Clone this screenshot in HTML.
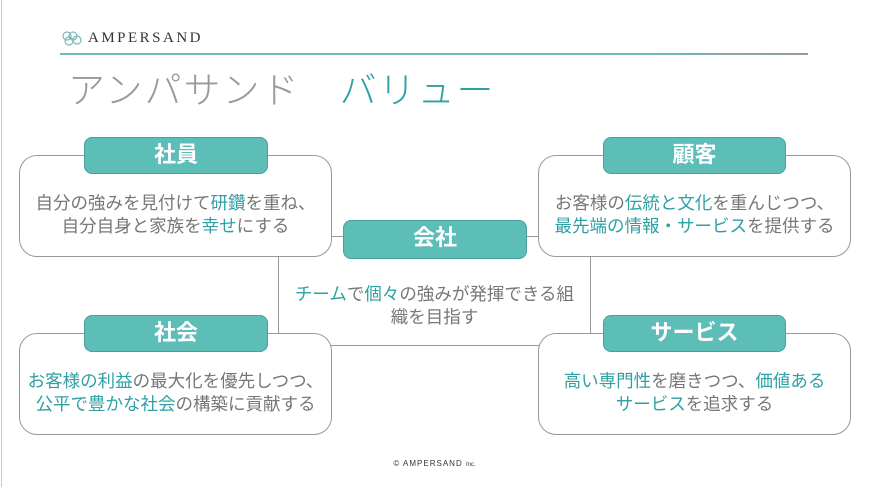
<!DOCTYPE html>
<html><head><meta charset="utf-8"><style>
body{margin:0;width:869px;height:487px;background:#fff;position:relative;overflow:hidden;font-family:"Liberation Sans","Noto Sans CJK JP",sans-serif;color:#777}
.abs{position:absolute}
.box{position:absolute;background:#fff;border:1.3px solid #999;border-radius:18px;box-sizing:border-box}
.pill{position:absolute;background:#5dbdb7;border:1.3px solid #4e9e99;border-radius:8px;box-sizing:border-box;color:#fff;font-weight:bold;font-size:22px;text-align:center;line-height:34px}
.t{position:absolute;text-align:center;font-size:17.5px;line-height:23px;color:#777;white-space:nowrap}
.c{color:#2fa0a3}
</style></head><body>
<div class="abs" style="left:1px;top:0;width:1px;height:487px;background:#ccc"></div>
<svg class="abs" style="left:60px;top:30px" width="24" height="16" viewBox="0 0 24 16"><g fill="none" stroke="#7bb8b4" stroke-width="1.2"><circle cx="7" cy="6" r="4"/><circle cx="13" cy="6" r="4"/><circle cx="9" cy="11" r="4"/><circle cx="17" cy="10" r="4"/></g></svg>
<div class="abs" style="left:88px;top:30px;font-family:'Liberation Serif',serif;font-size:15px;letter-spacing:2.5px;color:#333">AMPERSAND</div>
<div class="abs" style="left:60px;top:53px;width:748px;height:1.5px;background:linear-gradient(90deg,#6fb9b9 0%,#6fb9b9 80%,#999 100%)"></div>
<div class="abs" style="left:68px;top:60px;font-size:37px;font-weight:300;color:#999;letter-spacing:2px;white-space:nowrap">アンパサンド　<span style="color:#2fa0a3">バリュー</span></div>

<div class="box" style="left:278px;top:236px;width:313px;height:110px;border-radius:0"></div>
<div class="t" style="left:282px;top:283px;width:305px"><span class="c">チーム</span>で<span class="c">個々</span>の強みが発揮できる組<br>織を目指す</div>

<div class="box" style="left:19px;top:155px;width:313px;height:102px"></div>
<div class="box" style="left:538px;top:155px;width:313px;height:102px"></div>
<div class="box" style="left:19px;top:333px;width:313px;height:102px"></div>
<div class="box" style="left:538px;top:333px;width:313px;height:102px"></div>

<div class="pill" style="left:84px;top:137px;width:184px;height:37px">社員</div>
<div class="pill" style="left:603px;top:137px;width:183px;height:37px">顧客</div>
<div class="pill" style="left:343px;top:220px;width:184px;height:39px">会社</div>
<div class="pill" style="left:84px;top:315px;width:184px;height:37px">社会</div>
<div class="pill" style="left:603px;top:315px;width:183px;height:37px">サービス</div>

<div class="t" style="left:19px;top:192px;width:313px">自分の強みを見付けて<span class="c">研鑽</span>を重ね、<br>自分自身と家族を<span class="c">幸せ</span>にする</div>
<div class="t" style="left:538px;top:192px;width:313px">お客様の<span class="c">伝統と文化</span>を重んじつつ、<br><span class="c">最先端の情報・サービス</span>を提供する</div>
<div class="t" style="left:19px;top:370px;width:313px"><span class="c">お客様の利益</span>の最大化を優先しつつ、<br><span class="c">公平で豊かな社会</span>の構築に貢献する</div>
<div class="t" style="left:538px;top:370px;width:313px"><span class="c">高い専門性</span>を磨きつつ、<span class="c">価値ある<br>サービス</span>を追求する</div>

<div class="abs" style="left:0;top:459px;width:869px;text-align:center;font-size:8px;color:#333;letter-spacing:1px">© AMPERSAND <span style="font-size:6px;letter-spacing:0">Inc.</span></div>
</body></html>
